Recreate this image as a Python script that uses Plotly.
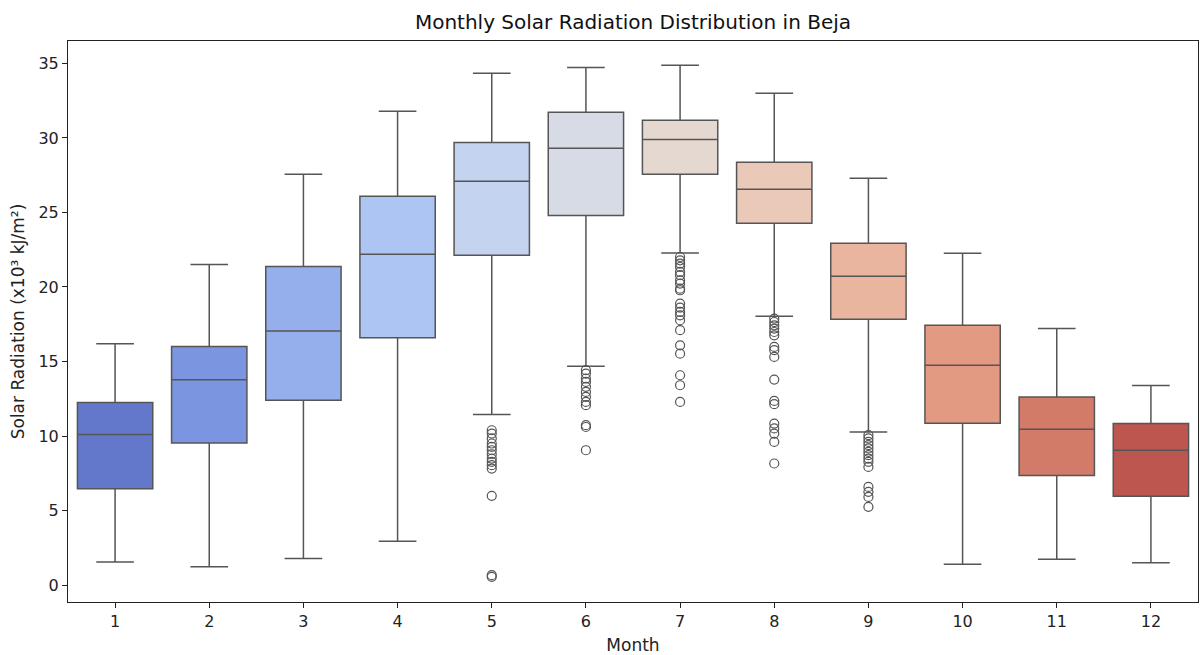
import plotly.graph_objects as go

months = [1, 2, 3, 4, 5, 6, 7, 8, 9, 10, 11, 12]
q1 =      [6.46, 9.54, 12.40, 16.60, 22.13, 24.80, 27.56, 24.27, 17.84, 10.86, 7.35, 5.97]
medians = [10.10, 13.77, 17.05, 22.19, 27.09, 29.30, 29.90, 26.55, 20.72, 14.75, 10.45, 9.05]
q3 =      [12.25, 16.00, 21.37, 26.08, 29.70, 31.72, 31.18, 28.36, 22.93, 17.43, 12.62, 10.84]
lower =   [1.56, 1.23, 1.79, 2.95, 11.45, 14.68, 22.28, 18.04, 10.28, 1.41, 1.73, 1.50]
upper =   [16.20, 21.50, 27.56, 31.78, 34.33, 34.73, 34.87, 32.99, 27.29, 22.27, 17.22, 13.39]

outliers_5 = [10.39, 10.17, 9.84, 9.50, 9.28, 9.05, 8.78, 8.49, 8.27, 8.05, 7.82, 5.99, 0.67, 0.56]
outliers_6 = [14.42, 14.19, 13.86, 13.63, 13.30, 12.96, 12.63, 12.29, 12.07, 10.73, 10.61, 9.05]
outliers_7 = [22.01, 21.79, 21.57, 21.34, 21.01, 20.79, 20.45, 20.23, 19.89, 19.78, 18.89, 18.62,
              18.33, 18.10, 17.77, 17.10, 16.09, 15.53, 14.08, 13.41, 12.29]
outliers_8 = [17.88, 17.65, 17.43, 17.21, 16.98, 16.76, 15.98, 15.76, 15.31, 13.79, 12.36, 12.14,
              10.84, 10.51, 10.17, 9.61, 8.16]
outliers_9 = [10.06, 9.84, 9.61, 9.39, 9.17, 8.94, 8.72, 8.49, 8.27, 7.93, 6.59, 6.26, 5.92, 5.25]

outliers = {5: outliers_5, 6: outliers_6, 7: outliers_7, 8: outliers_8, 9: outliers_9}

colors = ["#6378CA", "#7C95E0", "#95AFED", "#ADC5F3", "#C3D3F0", "#D6DBE5",
          "#E4D8D1", "#EBC9B9", "#EAB59F", "#E29A83", "#D37B69", "#BD564F"]

LINE = "#555555"
FONT = "DejaVu Sans"

fig = go.Figure()
for i, m in enumerate(months):
    fig.add_trace(go.Box(
        x=[m], q1=[q1[i]], median=[medians[i]], q3=[q3[i]],
        lowerfence=[lower[i]], upperfence=[upper[i]],
        width=0.8, whiskerwidth=0.5,
        fillcolor=colors[i],
        line=dict(color=LINE, width=1.5),
        boxpoints=False, showlegend=False, hoverinfo="y",
    ))

ox, oy = [], []
for m, vals in outliers.items():
    ox += [m] * len(vals)
    oy += vals
fig.add_trace(go.Scatter(
    x=ox, y=oy, mode="markers", showlegend=False,
    marker=dict(symbol="circle-open", size=9, color=LINE, line=dict(width=1.2, color=LINE)),
))

fig.update_layout(
    width=1200, height=655,
    margin=dict(l=68, r=2, t=41, b=53),
    paper_bgcolor="white", plot_bgcolor="white",
    boxmode="overlay",
    font=dict(family=FONT, size=16, color="#222222"),
    title=dict(text="Monthly Solar Radiation Distribution in Beja",
               x=0.5, xref="paper", y=1 - 22 / 655, yref="container",
               xanchor="center", yanchor="middle",
               font=dict(family=FONT, size=20, color="#111111")),
)
fig.update_xaxes(
    range=[0.5, 12.5], tickmode="array", tickvals=months, ticktext=[str(m) for m in months],
    showline=True, linecolor="#222222", linewidth=1.1, mirror=True,
    ticks="outside", ticklen=5, tickwidth=1.1, tickcolor="#222222",
    showgrid=False, zeroline=False,
    title=dict(text="Month", standoff=8, font=dict(family=FONT, size=17)),
    tickfont=dict(family=FONT, size=16),
)
fig.update_yaxes(
    range=[-1.13, 36.5], tickmode="array", tickvals=[0, 5, 10, 15, 20, 25, 30, 35],
    showline=True, linecolor="#222222", linewidth=1.1, mirror=True,
    ticks="outside", ticklen=5, tickwidth=1.1, tickcolor="#222222",
    showgrid=False, zeroline=False,
    title=dict(text="Solar Radiation (x10³ kJ/m²)", standoff=9, font=dict(family=FONT, size=17)),
    tickfont=dict(family=FONT, size=16),
)

fig.write_html("out.html", config={"displayModeBar": False},
               post_script="document.body.style.margin='0';document.body.style.overflow='hidden';")
